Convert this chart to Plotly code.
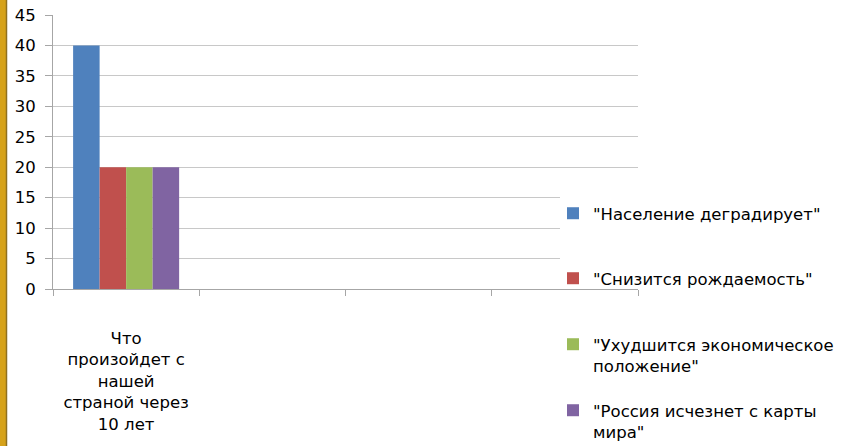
import plotly.graph_objects as go

# Survey question (only the first slot on the category axis is used)
categories = [
    "Что<br>произойдет с<br>нашей<br>страной через<br>10 лет",
    " ",
    "  ",
    "   ",
]
series_names = [
    "\"Население деградирует\"",
    "\"Снизится рождаемость\"",
    "\"Ухудшится экономическое<br>положение\"",
    "\"Россия исчезнет с карты<br>мира\"",
]
series_values = [40, 20, 20, 20]
series_colors = ["#4F81BD", "#C0504D", "#9BBB59", "#8064A2"]
y_ticks = [0, 5, 10, 15, 20, 25, 30, 35, 40, 45]

FONT = "DejaVu Sans"
FS = 16.5

W, H = 848, 446
ML, MR, MT, MB = 53, 210, 15, 157
PW, PH = W - ML - MR, H - MT - MB


def px_x(p):
    return (p - ML) / PW


def px_y(p):
    return (H - MB - p) / PH


# top edge (px) of each legend row
legend_tops = [196, 261, 327, 393]
legend_ids = ["legend", "legend2", "legend3", "legend4"]

fig = go.Figure()
for name, val, col, lid in zip(series_names, series_values, series_colors, legend_ids):
    fig.add_trace(go.Bar(
        x=[categories[0]],
        y=[val],
        name=name,
        legend=lid,
        marker=dict(color=col, line=dict(width=0)),
    ))

shapes = [
    # golden strip along the left edge
    dict(type="rect", xref="paper", yref="paper",
         x0=px_x(0), x1=px_x(6), y0=px_y(H), y1=px_y(0),
         fillcolor="#D6A21A", line=dict(width=0), layer="above"),
    dict(type="line", xref="paper", yref="paper",
         x0=px_x(6.5), x1=px_x(6.5), y0=px_y(H), y1=px_y(0),
         line=dict(color="#8F7020", width=1.5), layer="above"),
    # white backing behind the legend rows
    dict(type="rect", xref="paper", yref="paper",
         x0=px_x(560), x1=px_x(640), y0=px_y(284), y1=px_y(180),
         fillcolor="white", line=dict(width=0), layer="above"),
]

legend_layouts = {}
for lid, top in zip(legend_ids, legend_tops):
    legend_layouts[lid] = dict(
        x=px_x(553), y=px_y(top), xanchor="left", yanchor="top",
        bgcolor="rgba(0,0,0,0)", borderwidth=0,
        valign="top",
        font=dict(family=FONT, size=FS, color="black"),
    )

fig.update_layout(
    width=W, height=H,
    margin=dict(l=ML, r=MR, t=MT, b=MB, pad=0, autoexpand=False),
    paper_bgcolor="white",
    plot_bgcolor="white",
    barmode="group",
    bargap=0.275,
    bargroupgap=0,
    font=dict(family=FONT, size=FS, color="black"),
    showlegend=True,
    shapes=shapes,
    xaxis=dict(
        type="category",
        categoryorder="array",
        categoryarray=categories,
        range=[-0.5, 3.5],
        tickson="boundaries",
        ticks="outside", ticklen=6, tickcolor="#A6A6A6", tickwidth=1,
        showline=True, linecolor="#A6A6A6", linewidth=1,
        showgrid=False, zeroline=False,
        tickfont=dict(family=FONT, size=FS, color="black"),
        ticklabelstandoff=34,
        automargin=False,
    ),
    yaxis=dict(
        range=[0, 45],
        tickvals=y_ticks,
        ticks="outside", ticklen=7, tickcolor="#A6A6A6", tickwidth=1,
        showline=True, linecolor="#A6A6A6", linewidth=1,
        showgrid=True, gridcolor="#C8C8C8", gridwidth=1,
        zeroline=False,
        tickfont=dict(family=FONT, size=FS, color="black"),
        ticklabelstandoff=6,
        automargin=False,
    ),
    **legend_layouts,
)

fig.write_html("out.html")
